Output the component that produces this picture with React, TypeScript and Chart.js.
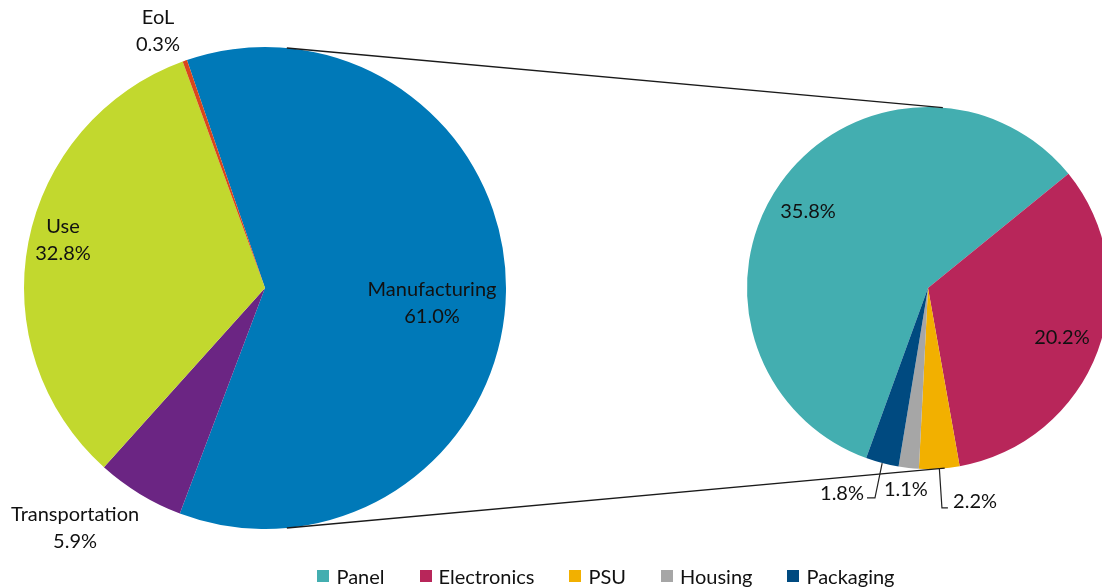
import React, { useEffect, useRef } from "react";
import { Chart, registerables } from "chart.js";

Chart.register(...registerables);

// ---- data ----
const primaryLabels = ["Manufacturing", "Transportation", "Use", "EoL"];
const primaryValues = [61.0, 5.9, 32.8, 0.3];
const primaryColors = ["#0079B8", "#6B2583", "#C2D82E", "#D9461C"];

const secondaryLabels = ["Panel", "Electronics", "PSU", "Housing", "Packaging"];
const secondaryValues = [35.8, 20.2, 2.2, 1.1, 1.8];
const secondaryColors = ["#43AEB0", "#B8265A", "#F2B000", "#A6A6A6", "#004A80"];

// ---- styling / layout (positions relative to pie centre, in radius units) ----
const FONT = "Lato";
const FONT_SIZE = 20;
const TEXT_COLOR = "#111111";
const LINE_H = 27;

const primaryLabelLayout = [
  { dx: 0.693, dy: 0.062 },
  { dx: -0.788, dy: 0.996 },
  { dx: -0.838, dy: -0.199 },
  { dx: -0.444, dy: -1.066 },
];
const secondaryLabelLayout = [
  { dx: -0.663, dy: -0.42 },
  { dx: 0.74, dy: 0.276 },
  { dx: 0.26, dy: 1.182, leader: [[0.077, 1.215], [0.11, 1.215]] },
  { dx: -0.122, dy: 1.116 },
  { dx: -0.475, dy: 1.133, leader: [[-0.293, 1.16], [-0.337, 1.16]] },
];

function makeLabelPlugin(layout: any[], textFor: (i: number) => string[]) {
  return {
    id: "customLabels",
    afterDraw(chart: any) {
      const meta = chart.getDatasetMeta(0);
      const first = meta.data[0];
      const cx = first.x, cy = first.y, r = first.outerRadius;
      const ctx = chart.ctx;
      ctx.save();
      ctx.font = `${FONT_SIZE}px ${FONT}`;
      ctx.fillStyle = TEXT_COLOR;
      ctx.textAlign = "center";
      ctx.textBaseline = "middle";
      meta.data.forEach((arc: any, i: number) => {
        const L = layout[i];
        if (L.leader) {
          const mid = (arc.startAngle + arc.endAngle) / 2;
          ctx.beginPath();
          ctx.strokeStyle = "#222";
          ctx.lineWidth = 1.2;
          ctx.moveTo(cx + Math.cos(mid) * r, cy + Math.sin(mid) * r);
          L.leader.forEach((p: number[]) => ctx.lineTo(cx + p[0] * r, cy + p[1] * r));
          ctx.stroke();
        }
        const lines = textFor(i);
        const tx = cx + L.dx * r;
        const ty = cy + L.dy * r;
        const h = (lines.length - 1) * LINE_H;
        lines.forEach((t, k) => ctx.fillText(t, tx, ty - h / 2 + k * LINE_H));
      });
      ctx.restore();
    },
  };
}

export default function App() {
  const leftRef = useRef<HTMLCanvasElement>(null);
  const rightRef = useRef<HTMLCanvasElement>(null);

  useEffect(() => {
    const pct = (v: number) => v.toFixed(1) + "%";
    const left = new Chart(leftRef.current!, {
      type: "pie",
      data: {
        labels: primaryLabels,
        datasets: [{ data: primaryValues, backgroundColor: primaryColors, borderWidth: 0 }],
      },
      options: {
        animation: false,
        responsive: false,
        rotation: -18.9,
        layout: { padding: { left: 24, right: 596, top: 47, bottom: 58 } },
        plugins: { legend: { display: false }, tooltip: { enabled: false } },
      },
      plugins: [makeLabelPlugin(primaryLabelLayout, (i) => [primaryLabels[i], pct(primaryValues[i])])],
    });

    const connector = {
      id: "connector",
      afterDraw(chart: any) {
        const lm = left.getDatasetMeta(0).data[0] as any;
        const rm = chart.getDatasetMeta(0).data[0];
        const ctx = chart.ctx;
        const pt = (a: number, e: any) => [e.x + Math.cos((a * Math.PI) / 180) * e.outerRadius, e.y + Math.sin((a * Math.PI) / 180) * e.outerRadius];
        ctx.save();
        ctx.strokeStyle = "#1a1a1a";
        ctx.lineWidth = 1.3;
        [[-84.8, -85.3], [84.8, 84.7]].forEach(([a1, a2]) => {
          const p1 = pt(a1, lm), p2 = pt(a2, rm);
          ctx.beginPath();
          ctx.moveTo(p1[0], p1[1]);
          ctx.lineTo(p2[0], p2[1]);
          ctx.stroke();
        });
        ctx.restore();
      },
    };

    const right = new Chart(rightRef.current!, {
      type: "pie",
      data: {
        labels: secondaryLabels,
        datasets: [{ data: secondaryValues, backgroundColor: secondaryColors, borderWidth: 0 }],
      },
      options: {
        animation: false,
        responsive: false,
        rotation: -160.03,
        layout: { padding: { left: 747, right: 101, top: 107, bottom: 118 } },
        plugins: { legend: { display: false }, tooltip: { enabled: false } },
      },
      plugins: [connector, makeLabelPlugin(secondaryLabelLayout, (i) => [pct(secondaryValues[i])])],
    });

    return () => {
      right.destroy();
      left.destroy();
    };
  }, []);

  return (
    <div style={{ position: "fixed", left: 0, top: 0, width: 1102, height: 587, overflow: "hidden", background: "#fff" }}>
      <canvas ref={leftRef} width={1102} height={587} style={{ position: "absolute", left: 0, top: 0 }} />
      <canvas ref={rightRef} width={1210} height={587} style={{ position: "absolute", left: 0, top: 0 }} />
      <div
        style={{
          position: "absolute",
          left: 0,
          top: 562,
          width: 1212,
          display: "flex",
          justifyContent: "center",
          gap: 35,
          fontFamily: FONT,
          fontSize: FONT_SIZE,
          color: TEXT_COLOR,
          lineHeight: "28px",
        }}
      >
        {secondaryLabels.map((l, i) => (
          <div key={l} style={{ display: "flex", alignItems: "center" }}>
            <span style={{ display: "inline-block", width: 12, height: 12, background: secondaryColors[i], marginRight: 7 }} />
            <span>{l}</span>
          </div>
        ))}
      </div>
    </div>
  );
}
